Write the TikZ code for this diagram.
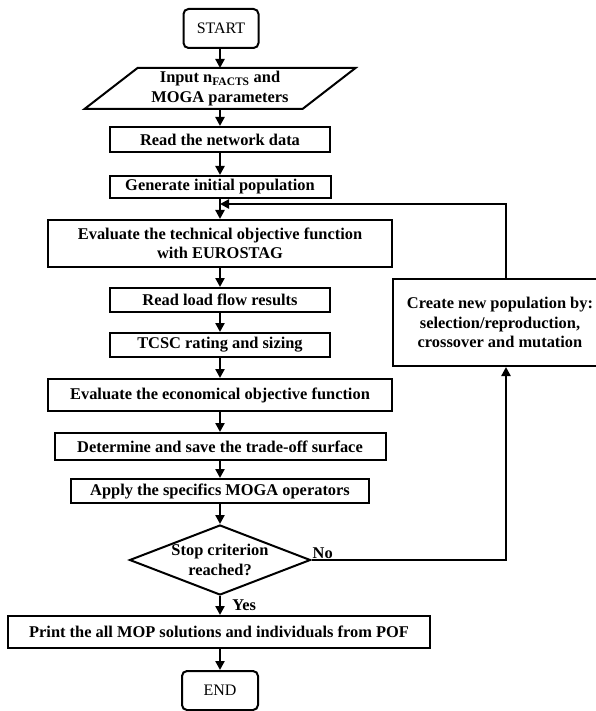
\documentclass[tikz,border=0pt]{standalone}
\usepackage{fontspec}
\setmainfont{Liberation Serif}
\usetikzlibrary{shapes.geometric,arrows.meta}
\begin{document}
\begin{tikzpicture}[x=1pt,y=-1pt,
  box/.style={draw, line width=2pt, align=center, inner sep=1pt, font=\bfseries\fontsize{16.4}{19.5}\selectfont},
  term/.style={draw, line width=2pt, rounded corners=5pt, font=\fontsize{16}{19}\selectfont},
  lbl/.style={inner sep=1pt, font=\bfseries\fontsize{16.4}{19.5}\selectfont},
  flow/.style={line width=2.6pt, -{Triangle[length=9pt,width=9pt]}}]
\useasboundingbox (0,0) rectangle (595,711);
\node[term, minimum width=75pt, minimum height=39pt] (start) at (221,28.5) {START};
\node[box, draw=none, minimum width=216pt, minimum height=39pt] (input) at (220,88.5) {Input n\textsubscript{FACTS} and\\MOGA parameters};
\node[box, minimum width=220pt, minimum height=25pt] (read) at (220,139.5) {Read the network data};
\node[box, minimum width=221pt, minimum height=22pt] (init) at (220,187) {Generate initial population};
\node[box, minimum width=344pt, minimum height=47pt] (evaltech) at (220,243.5) {Evaluate the technical objective function\\with EUROSTAG};
\node[box, minimum width=220pt, minimum height=24pt] (loadflow) at (220,300) {Read load flow results};
\node[box, minimum width=220pt, minimum height=24pt] (tcsc) at (220,345) {TCSC rating and sizing};
\node[box, minimum width=344pt, minimum height=32pt] (evaleco) at (220,395) {Evaluate the economical objective function};
\node[box, minimum width=331pt, minimum height=27pt] (tradeoff) at (220,446.5) {Determine and save the trade-off surface};
\node[box, minimum width=298pt, minimum height=24pt] (apply) at (220,491) {Apply the specifics MOGA operators};
\node[box, diamond, aspect=2.6, inner sep=0pt, minimum width=181pt, minimum height=70pt] (stop) at (220,560) {Stop criterion\\reached?};
\node[box, minimum width=422pt, minimum height=32pt] (print) at (219,632) {Print the all MOP solutions and individuals from POF};
\node[term, minimum width=76pt, minimum height=39pt] (end) at (220,690.5) {END};
\node[box, minimum width=214pt, minimum height=87pt] (create) at (500,322.5) {Create new population by:\\selection/reproduction,\\crossover and mutation};

\draw[line width=2pt] ([xshift=26.5pt]input.north west) -- ([xshift=26.5pt]input.north east) -- ([xshift=-26.5pt]input.south east) -- ([xshift=-26.5pt]input.south west) -- cycle;

\coordinate (join) at (220,204);
\coordinate (loopx) at (506,0);

\draw[flow] (start.south -| input.north) -- (input.north);
\draw[flow] (input.south) -- (read.north);
\draw[flow] (read.south) -- (init.north);
\draw[flow] (init.south) -- (evaltech.north);
\draw[flow] (evaltech.south) -- (loadflow.north);
\draw[flow] (loadflow.south) -- (tcsc.north);
\draw[flow] (tcsc.south) -- (evaleco.north);
\draw[flow] (evaleco.south) -- (tradeoff.north);
\draw[flow] (tradeoff.south) -- (apply.north);
\draw[flow] (apply.south) -- (stop.north);
\draw[flow] (stop.south) -- node[lbl, right=10pt] {Yes} (stop.south |- print.north);
\draw[flow] (print.south -| end.north) -- (end.north);
\draw[flow] (stop.east) -- (stop.east -| loopx) -- (loopx |- create.south);
\draw[flow] (loopx |- create.north) |- (join);
\node[lbl, anchor=south west] (no) at (stop.east) {No};
\end{tikzpicture}
\end{document}
